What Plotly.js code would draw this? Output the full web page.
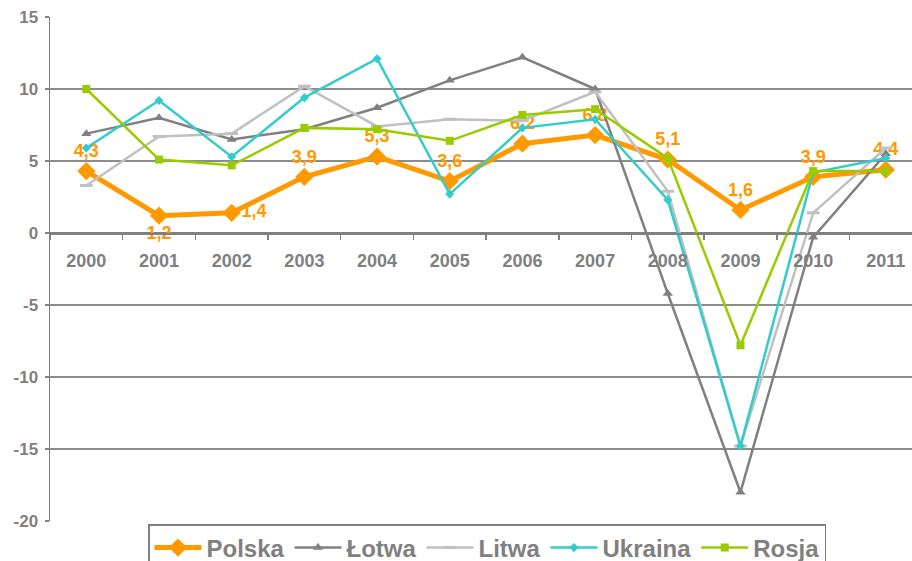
<!DOCTYPE html>
<html>
<head>
<meta charset="utf-8">
<script src="https://cdn.plot.ly/plotly-3.0.1.min.js"></script>
<style>html,body{margin:0;padding:0;background:#fff;}#chart{width:912px;height:561px;}</style>
</head>
<body>
<div id="chart"></div>
<script>
const years = ['2000','2001','2002','2003','2004','2005','2006','2007','2008','2009','2010','2011'];
const polska  = [4.3, 1.2, 1.4, 3.9, 5.3, 3.6, 6.2, 6.8, 5.1, 1.6, 3.9, 4.4];
const lotwa   = [6.9, 8.0, 6.5, 7.2, 8.7, 10.6, 12.2, 10.0, -4.2, -18.0, -0.3, 5.5];
const litwa   = [3.3, 6.7, 6.9, 10.2, 7.4, 7.9, 7.8, 9.8, 2.9, -14.8, 1.4, 5.9];
const ukraina = [5.9, 9.2, 5.3, 9.4, 12.1, 2.7, 7.3, 7.9, 2.3, -14.8, 4.2, 5.2];
const rosja   = [10.0, 5.1, 4.7, 7.3, 7.2, 6.4, 8.2, 8.6, 5.2, -7.8, 4.3, 4.3];
const seriesNames = ['Polska', 'Łotwa', 'Litwa', 'Ukraina', 'Rosja'];
const yTicks = [-20, -15, -10, -5, 0, 5, 10, 15];
const yTickLabels = ['-20', '-15', '-10', '-5', '0', '5', '10', '15'];

const grey = '#808080';
const FONT = 'Liberation Sans, Arial, sans-serif';
const labelPos = ['top center','bottom center','middle right','top center','top center','top center',
                  'top center','top center','top center','top center','top center','top center'];

const traces = [
  {x: years, y: polska, name: '<b>' + seriesNames[0] + '</b>', type: 'scatter', mode: 'lines+markers+text',
   line: {color: '#FF9900', width: 5}, marker: {symbol: 'diamond', size: 14, color: '#FF9900'},
   texttemplate: '<b>%{y:.1f}</b>', textposition: labelPos,
   textfont: {family: FONT, size: 18, color: '#FF9900'},
   legendrank: 1},
  {x: years, y: lotwa, name: '<b>' + seriesNames[1] + '</b>', type: 'scatter', mode: 'lines+markers',
   line: {color: grey, width: 2.5}, marker: {symbol: 'triangle-up', size: 9, color: grey}, legendrank: 2},
  {x: years, y: litwa, name: '<b>' + seriesNames[2] + '</b>', type: 'scatter', mode: 'lines+markers',
   line: {color: '#C0C0C0', width: 2.5}, marker: {symbol: 'line-ew', size: 9, color: '#C0C0C0', line: {color: '#C0C0C0', width: 3}}, legendrank: 3},
  {x: years, y: ukraina, name: '<b>' + seriesNames[3] + '</b>', type: 'scatter', mode: 'lines+markers',
   line: {color: '#33CCCC', width: 2.5}, marker: {symbol: 'diamond', size: 7, color: '#33CCCC'}, legendrank: 4},
  {x: years, y: rosja, name: '<b>' + seriesNames[4] + '</b>', type: 'scatter', mode: 'lines+markers',
   line: {color: '#99CC00', width: 2.5}, marker: {symbol: 'square', size: 8, color: '#99CC00'}, legendrank: 5}
];

const layout = {
  width: 912, height: 561,
  margin: {l: 50, r: 0, t: 17, b: 40, pad: 0, autoexpand: false},
  paper_bgcolor: '#fff', plot_bgcolor: '#fff',
  separators: ', ',
  showlegend: true,
  font: {family: FONT, color: grey},
  xaxis: {
    type: 'category', categoryorder: 'array', categoryarray: years,
    tickmode: 'array', tickvals: years, ticktext: years.map(t => '<b>' + t + '</b>'),
    range: [-0.5, 11.36], anchor: 'free', position: 0.5714,
    showline: true, linecolor: grey, linewidth: 1.5,
    ticks: 'outside', tickson: 'boundaries', ticklen: 5, tickcolor: grey, tickwidth: 1.5,
    ticklabelstandoff: 11,
    tickfont: {family: FONT, size: 18, color: grey},
    showgrid: false, zeroline: false, fixedrange: true
  },
  yaxis: {
    range: [-20, 15], tickmode: 'array', tickvals: yTicks, ticktext: yTickLabels.map(t => '<b>' + t + '</b>'),
    showline: true, linecolor: grey, linewidth: 1.5,
    ticks: 'outside', ticklen: 4, tickcolor: grey, tickwidth: 1.5,
    ticklabelstandoff: 3,
    tickfont: {family: FONT, size: 17, color: grey},
    showgrid: true, gridcolor: '#8c8c8c', gridwidth: 1.3,
    zeroline: true, zerolinecolor: grey, zerolinewidth: 1.5, fixedrange: true
  },
  legend: {
    orientation: 'h', x: 0.1137, xanchor: 'left', y: -0.006, yanchor: 'top',
    bordercolor: grey, borderwidth: 1.5, bgcolor: '#fff',
    font: {family: FONT, size: 24, color: grey},
    itemwidth: 47, traceorder: 'normal'
  }
};

Plotly.newPlot('chart', traces, layout, {staticPlot: true, displayModeBar: false});
</script>
</body>
</html>
